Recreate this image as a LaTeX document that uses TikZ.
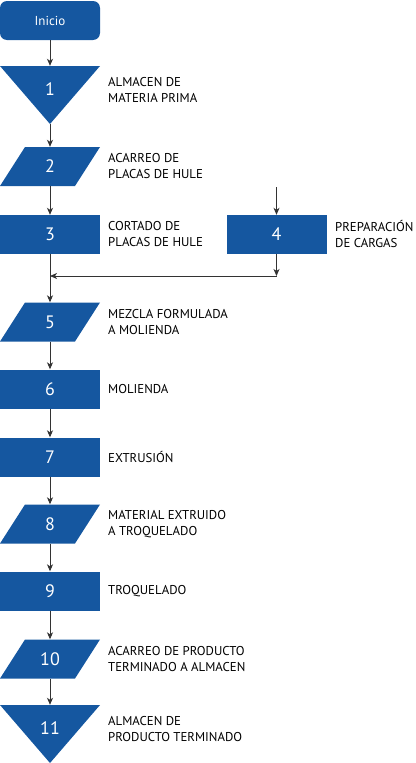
\documentclass[tikz,border=0pt]{standalone}
\usepackage{fontspec}
\setmainfont{PT Sans}
\usepackage{tikz}
\usetikzlibrary{calc}
\usetikzlibrary{arrows.meta}
\definecolor{flujo}{HTML}{1557A0}
\definecolor{linea}{HTML}{333333}
\tikzset{
  caja/.style={minimum width=100pt,minimum height=39pt,inner sep=0pt,
    text=white,font=\fontsize{18}{18}\selectfont},
  rect/.style={caja,fill=flujo},
  inicio/.style={caja,fill=flujo,rounded corners=7pt,font=\fontsize{13}{13}\selectfont},
  paral/.style={caja,path picture={\fill[flujo]
    ($(path picture bounding box.north west)+(25pt,0)$) --
    (path picture bounding box.north east) --
    ($(path picture bounding box.south east)+(-25pt,0)$) --
    (path picture bounding box.south west) -- cycle;}},
  almacen/.style={caja,minimum height=58pt,text depth=12pt,path picture={\fill[flujo]
    (path picture bounding box.north west) --
    (path picture bounding box.north east) --
    (path picture bounding box.south) -- cycle;}},
  texto/.style={anchor=west,inner sep=0pt,align=left,
    font=\fontsize{12.8}{16}\selectfont},
  flecha/.style={draw=linea,line width=0.9pt,-{Stealth[length=7pt,width=6pt,inset=2pt]}}
}
\begin{document}
\begin{tikzpicture}[x=1pt,y=-1pt]
  \useasboundingbox (0,0) rectangle (415,763);
  \node[inicio] (ini) at (50,20.5) {Inicio};
  \node[almacen] (n1) at (50,95) {1};
  \node[paral] (n2) at (50,166.5) {2};
  \node[rect] (n3) at (50,234.5) {3};
  \node[rect] (n4) at (276.5,234.5) {4};
  \node[paral] (n5) at (50,322) {5};
  \node[rect] (n6) at (50,389) {6};
  \node[rect] (n7) at (50,457) {7};
  \node[paral] (n8) at (50,524) {8};
  \node[rect] (n9) at (50,591) {9};
  \node[paral] (n10) at (50,659) {10};
  \node[almacen] (n11) at (50,734) {11};
  \node[texto] (t1) at (108,90) {ALMACEN DE\\MATERIA PRIMA};
  \node[texto] (t2) at (108,166.5) {ACARREO DE\\PLACAS DE HULE};
  \node[texto] (t3) at (108,234.5) {CORTADO DE\\PLACAS DE HULE};
  \node[texto] (t4) at (335,234.5) {PREPARACIÓN\\DE CARGAS};
  \node[texto] (t5) at (108,322) {MEZCLA FORMULADA\\A MOLIENDA};
  \node[texto] (t6) at (108,389) {MOLIENDA};
  \node[texto] (t7) at (108,457) {EXTRUSIÓN};
  \node[texto] (t8) at (108,524) {MATERIAL EXTRUIDO\\A TROQUELADO};
  \node[texto] (t9) at (108,591) {TROQUELADO};
  \node[texto] (t10) at (108,659) {ACARREO DE PRODUCTO\\TERMINADO A ALMACEN};
  \node[texto] (t11) at (108,729) {ALMACEN DE\\PRODUCTO TERMINADO};
  \coordinate (e4) at (276.5,187);
  \coordinate (j4) at (276.5,276);
  \coordinate (j3) at (50,276);
  \draw[flecha] (ini) -- (n1.north);
  \draw[flecha] (n1.south) -- (n2);
  \draw[flecha] (n2) -- (n3);
  \draw[flecha] (e4) -- (n4);
  \draw[flecha] (n4) -- (j4);
  \draw[flecha] (j4) -- (j3);
  \draw[flecha] (n3) -- (n5);
  \draw[flecha] (n5) -- (n6);
  \draw[flecha] (n6) -- (n7);
  \draw[flecha] (n7) -- (n8);
  \draw[flecha] (n8) -- (n9);
  \draw[flecha] (n9) -- (n10);
  \draw[flecha] (n10) -- (n11.north);
\end{tikzpicture}
\end{document}
